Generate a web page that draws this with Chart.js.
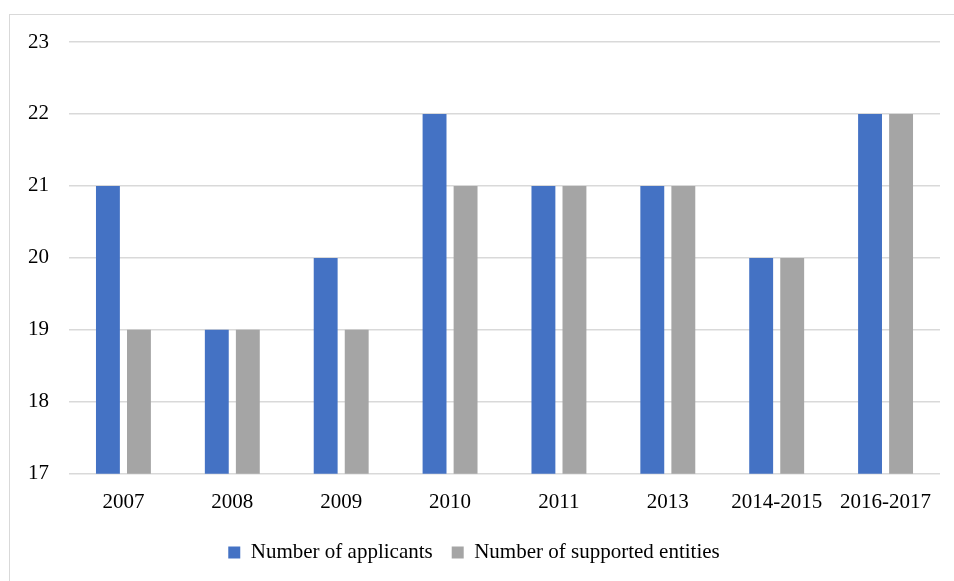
<!DOCTYPE html>
<html>
<head>
<meta charset="utf-8">
<script src="https://cdn.jsdelivr.net/npm/chart.js@4"></script>
<style>
    html, body { margin: 0; padding: 0; background: #fff; }
    #wrap { position: relative; width: 954px; height: 581px; overflow: hidden; }
    #frame { position: absolute; left: 9px; top: 14px; width: 1000px; height: 700px; border: 1px solid #d9d9d9; }
    #barChart { position: absolute; left: 0; top: 0; }
</style>
</head>
<body>
<div id="wrap">
    <div id="frame"></div>
    <canvas id="barChart" width="954" height="581"></canvas>
</div>
<script>
// Data
const years = ['2007', '2008', '2009', '2010', '2011', '2013', '2014-2015', '2016-2017'];
const applicants = [21, 19, 20, 22, 21, 21, 20, 22];
const supported = [19, 19, 19, 21, 21, 21, 20, 22];

const fontFamily = "'Liberation Serif', 'DejaVu Serif', serif";

new Chart(document.getElementById('barChart'), {
    type: 'bar',
    data: {
        labels: years,
        datasets: [
            {
                label: 'Number of applicants',
                data: applicants,
                backgroundColor: '#4472C4',
                borderWidth: 0
            },
            {
                label: 'Number of supported entities',
                data: supported,
                backgroundColor: '#A5A5A5',
                borderWidth: 0
            }
        ]
    },
    options: {
        responsive: false,
        animation: false,
        maintainAspectRatio: false,
        categoryPercentage: 0.57,
        barPercentage: 0.77,
        layout: { padding: { left: 8, right: 14, top: 42, bottom: 8 } },
        scales: {
            x: {
                grid: { display: false },
                border: { display: false },
                ticks: { color: '#000', font: { family: fontFamily, size: 21 }, padding: 8, maxRotation: 0 }
            },
            y: {
                min: 17,
                max: 23,
                ticks: { stepSize: 1, color: '#000', font: { family: fontFamily, size: 21 }, padding: 20 },
                grid: { color: '#d9d9d9', lineWidth: 1.5, drawTicks: false },
                border: { display: false }
            }
        },
        plugins: {
            legend: {
                position: 'bottom',
                labels: {
                    color: '#000',
                    boxWidth: 12,
                    boxHeight: 12,
                    padding: 19,
                    font: { family: fontFamily, size: 21 }
                }
            },
            tooltip: { enabled: false }
        }
    }
});
</script>
</body>
</html>
